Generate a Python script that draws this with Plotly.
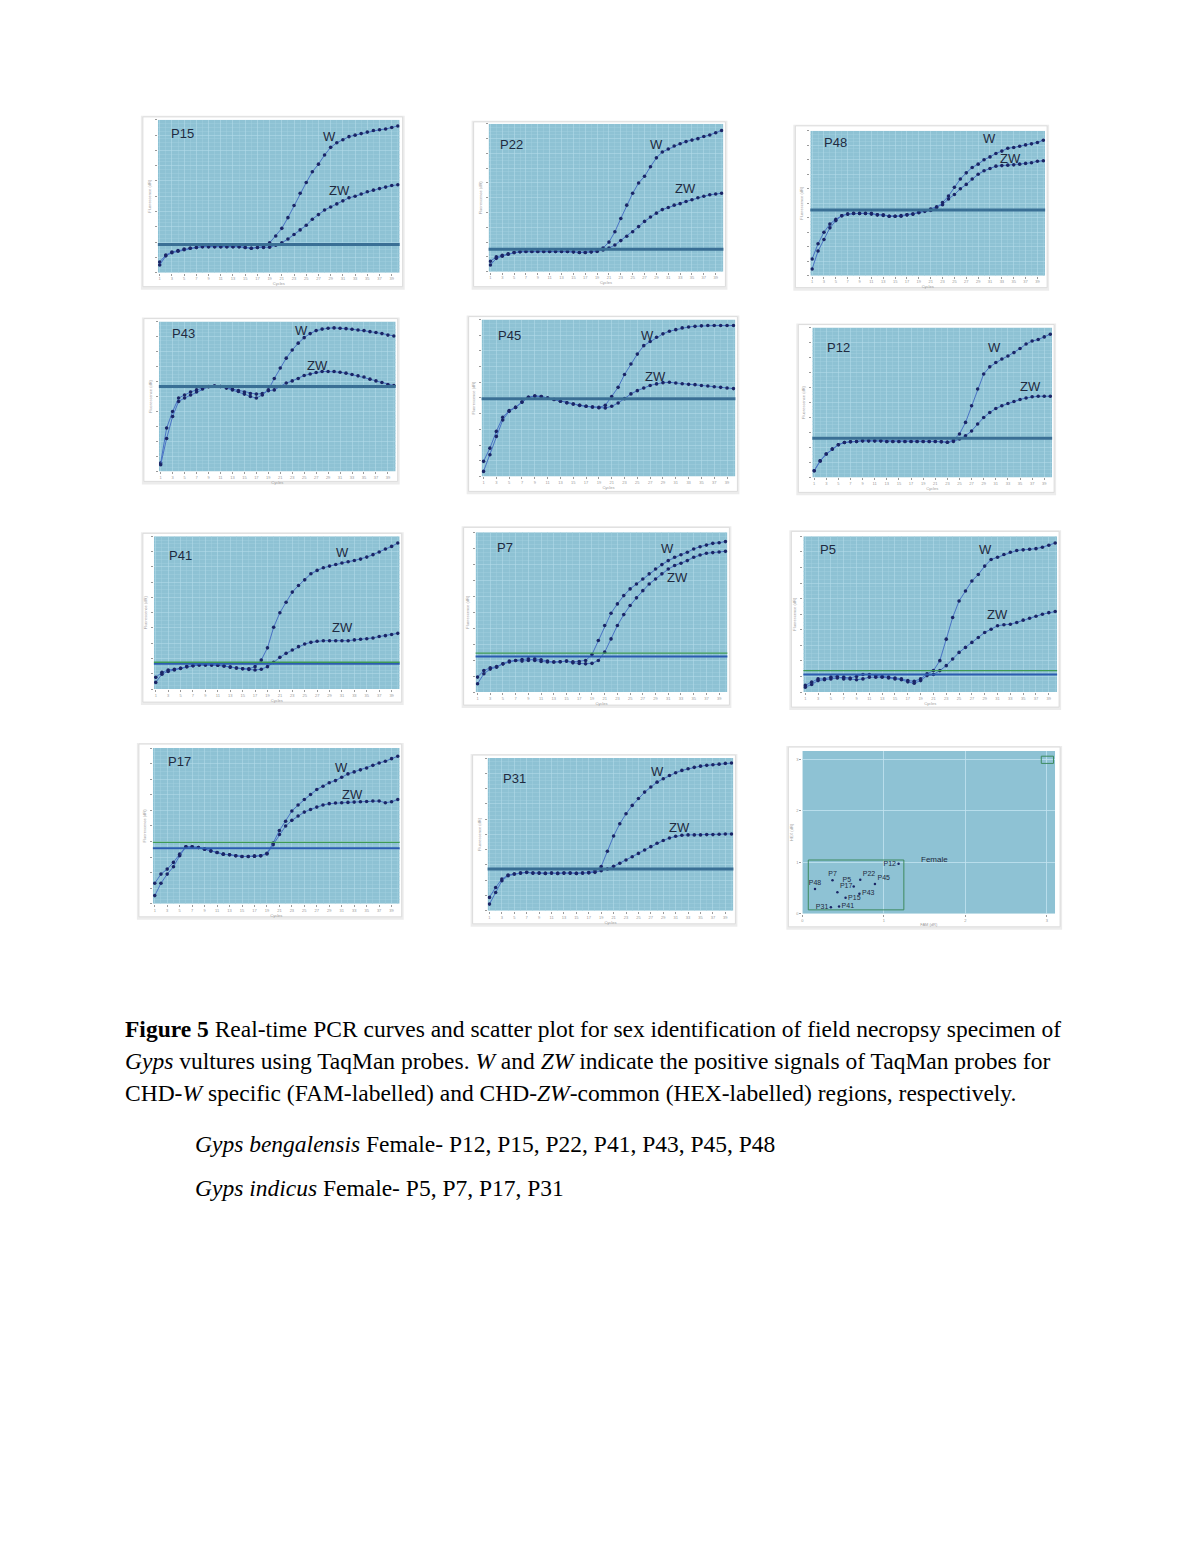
import plotly.graph_objects as go

# ---------------- data (% of plot height) ----------------
cycles = list(range(1, 41))

P15_W = [5, 11, 13, 14, 15, 16, 16.5, 17, 17, 17, 17, 17, 17, 17, 16.5, 16, 16.5, 17, 19.5, 24,
         29, 36, 44, 52, 59, 66, 71, 77, 82, 85, 87, 89, 90, 91, 92, 93, 93.5, 94, 95, 96]
P15_ZW = [7, 11.5, 13.5, 14.5, 15.5, 16, 16.5, 17, 17, 17, 17, 17, 17, 17, 16.5, 16, 16.5, 16.5, 16.7, 18,
          19.5, 22, 25, 28, 31, 35, 38, 41, 43, 45, 47, 49, 50, 51.5, 53, 54, 55, 56, 57, 57.5]

P22_W = [4.5, 9, 10.5, 11.8, 12.9, 13.5, 13.6, 13.6, 13.6, 13.6, 13.6, 13.6, 13.6, 13.6, 13.4, 13, 13, 13.4, 14, 16,
         20, 27, 36, 45, 53, 60, 64.5, 71, 77, 81, 83, 85, 86.5, 88, 89, 90, 91.4, 92.5, 94, 95.5]
P22_ZW = [7, 10, 11, 12, 13, 13.5, 13.6, 13.6, 13.6, 13.6, 13.6, 13.6, 13.6, 13.6, 13.4, 13, 13, 13.4, 13.6, 14.7,
          16, 18, 21, 24, 27, 30.5, 34, 37, 39.6, 42, 43.4, 45, 46, 47.5, 48.6, 50, 51, 52, 52.5, 53]

P48_W = [4.6, 17, 25, 33, 38, 41.4, 42.5, 43, 43, 43, 43, 42, 42, 41, 41, 41, 42, 42.5, 43.7, 44.4,
         45, 47, 50.5, 55, 61, 66.7, 71, 74.7, 77, 80, 82, 84.4, 86, 88, 88.5, 89.4, 90.3, 91, 92, 93.5]
P48_ZW = [11.5, 22, 30, 35.6, 39, 41.4, 42.5, 43, 43, 43, 42.5, 42, 41.5, 41, 41, 41.5, 42, 42.5, 43.5, 44.8,
          46, 47.6, 49, 53, 56, 60, 63, 66.7, 70, 72.4, 74, 75.6, 76, 76.3, 76.5, 77, 77.5, 78, 79, 79.3]

P43_W = [4.4, 22, 36.7, 46.7, 49, 51, 53, 55, 56.5, 57, 56.7, 55.6, 54.4, 53.3, 51.6, 50, 49, 51, 54.4, 62,
         69, 75.6, 81, 85.6, 89.3, 92, 94, 95, 95.6, 95.8, 95.6, 95.3, 94.9, 94.4, 94, 93.3, 92.7, 92, 91, 90.4]
P43_ZW = [5.6, 29, 40, 49, 51, 53, 54.4, 55.6, 56.7, 57, 56.7, 55.8, 54.9, 54, 53, 52, 51.6, 52, 53.8, 54.4,
          56.7, 59, 60.4, 62, 64, 65, 66, 66.7, 66.7, 66.7, 66.2, 65.6, 64.7, 63.8, 63, 61.6, 60.4, 59.3, 58, 57.3]

P45_W = [3.2, 13.8, 25.5, 36, 41.5, 44, 47.4, 50.4, 51.3, 50.9, 50, 49, 47.9, 47, 46.2, 45.3, 44.7, 44.3, 44, 45.3,
         51, 56.8, 65, 71.7, 78, 83.4, 86, 88.7, 90.9, 92.6, 93.6, 94.7, 95.3, 95.7, 96, 96.2, 96.2, 96.2, 96.2, 96.2]
P45_ZW = [9.6, 18, 28.7, 37.7, 42, 44, 47.4, 50.4, 51.3, 50.9, 50, 49, 47.9, 47, 46.2, 45.3, 44.7, 44.3, 43.8, 43.6,
          44.7, 46.8, 49.6, 52.6, 54.7, 56.4, 58, 59, 59.8, 60, 59.6, 59.1, 58.7, 58.5, 58, 57.7, 57.2, 56.8, 56.4, 56]

P12_W = [4.4, 11, 15.6, 18.9, 21.8, 23.3, 23.8, 24, 24.4, 24.4, 24.4, 24.4, 24, 24, 24, 24, 24, 24, 24, 24,
         24, 23.8, 23.5, 24.9, 29, 36.7, 47.8, 59, 69, 73.8, 76.7, 79, 81, 83.3, 86, 89, 91, 92, 93.8, 95.6]
P12_ZW = [4.4, 11, 15.6, 18.9, 21.8, 23.3, 23.8, 24, 24.4, 24.4, 24.4, 24.4, 24, 24, 24, 24, 24, 24, 24, 24,
          24, 23.8, 23.5, 24, 25.6, 27.8, 31, 35.6, 40, 43.3, 46, 47.8, 49.3, 50.7, 52, 53, 53.8, 54.2, 54.2, 54.2]

P41_W = [4.4, 9.8, 11.6, 12.5, 13.6, 14.7, 15.3, 15.8, 15.8, 15.8, 15.6, 15.1, 14.4, 13.8, 13.3, 13.3, 14.7, 19, 27, 40.5,
         50, 56.9, 63.5, 67.8, 71.5, 75.5, 77.7, 79.4, 80.5, 81.6, 82.5, 83.4, 84.2, 85.1, 86.4, 88, 89.7, 91.7, 93.4, 95.6]
P41_ZW = [7.7, 11, 12.5, 13, 13.6, 14.7, 15.3, 15.8, 15.8, 15.8, 15.6, 15.1, 14.4, 13.8, 13.3, 12.9, 12.5, 13, 14.7, 17.5,
          20.8, 23.4, 25.6, 27.8, 29.5, 30.6, 31.3, 31.7, 31.7, 31.7, 31.7, 31.7, 32.2, 32.6, 33, 33.5, 34.4, 35, 35.7, 36.5]

P7_W = [9.4, 13.5, 15.2, 16, 17.7, 19.4, 19.8, 19.4, 19.8, 20.8, 20.2, 19.4, 18.8, 19, 19.4, 19, 19.2, 19.8, 23.5, 32.3,
        41.7, 49.4, 55.2, 60.4, 64.6, 67.7, 70.8, 74, 77, 79.8, 82.3, 84.4, 86, 87.5, 89.6, 91, 92, 93.1, 93.5, 94.2]
P7_ZW = [5.2, 11.5, 14.4, 15.6, 17.7, 18.8, 19.8, 20.4, 20.8, 19.8, 19.2, 18.8, 18.8, 19, 19.4, 18.3, 17.9, 17.7, 18, 19.8,
         25, 33.3, 41.7, 48.5, 54.2, 59, 63.5, 67.7, 70.8, 74, 77, 79.2, 80.6, 82.3, 84.4, 85.8, 86.9, 87.3, 87.7, 88.1]

P5_W = [3.2, 4.9, 7.4, 7.9, 8.5, 9.1, 9.6, 9.1, 10, 11.3, 11.3, 10.6, 10, 9.6, 9.1, 8.5, 7.4, 7, 8.5, 11.7,
        13.8, 20.2, 34, 47.9, 58.5, 64.9, 71.3, 75.5, 80.9, 85.1, 86.6, 88.3, 89.8, 90.9, 91.3, 91.7, 92.1, 93, 94.3, 95.7]
P5_ZW = [4.3, 6.4, 8.5, 8.5, 9.6, 10, 8.5, 8.5, 7.9, 8.5, 9.6, 9.6, 9.6, 9.1, 8.5, 7.9, 6.6, 5.7, 7.4, 10.6,
         11.3, 13.8, 17, 21.3, 25.5, 28.7, 31.9, 35.1, 38.3, 40.4, 42.6, 43.2, 43.6, 44.7, 46.2, 47.4, 48.7, 50, 51, 51.7]

P17_W = [5.3, 13.2, 19.1, 23.8, 30.9, 36.6, 36.6, 36.2, 35.1, 34, 33, 31.9, 31.5, 30.9, 30.4, 30.4, 30.6, 30.9, 32.5, 39,
         47, 53, 59.6, 63.4, 67, 70.2, 73.4, 75.5, 77.7, 79.1, 81.3, 83.4, 84.7, 86, 87.2, 88.9, 90.4, 91.5, 93.2, 94.7]
P17_ZW = [13.2, 19.1, 22.3, 26.6, 31.9, 36.6, 36.6, 36.2, 35.1, 34, 33, 31.9, 31.5, 30.9, 30.4, 30.4, 30.6, 30.9, 32, 38,
          44.5, 50, 53.6, 56.4, 58.9, 60.6, 62.1, 63.4, 64.3, 64.7, 64.9, 65.1, 65.3, 65.5, 65.7, 66, 66, 64.9, 65.5, 67]

P31_W = [4.4, 12, 19.7, 23, 24.1, 24.7, 25.2, 24.7, 24.7, 24.5, 24.7, 24.5, 24.7, 24.7, 24.5, 24.7, 25, 26.3, 29, 39,
         49, 57, 63.5, 69, 73.5, 77.7, 81, 84.2, 86.4, 88.6, 90.4, 91.9, 93, 93.9, 94.7, 95.2, 95.6, 96, 96.5, 96.7]
P31_ZW = [8.8, 15.3, 20.8, 23.4, 24.1, 24.7, 25.2, 24.7, 24.7, 24.5, 24.7, 24.5, 24.7, 24.7, 24.5, 24.7, 25, 25.2, 26.3, 27.4,
          29.1, 31.1, 33.3, 35.4, 37.6, 39.8, 42, 44.2, 46, 47.7, 48.8, 49.5, 49.7, 49.7, 49.7, 49.9, 49.9, 50.1, 50.3, 50.3]

# thresholds (blue) and second (green) threshold lines, % of plot height
thr_blue = {"P15": 18.4, "P22": 15.2, "P48": 45.3, "P43": 56.7, "P45": 49.6, "P12": 26.2,
            "P41": 16.5, "P7": 22.3, "P5": 11.3, "P17": 35.7, "P31": 27.4}
thr_green = {"P41": 17.6, "P7": 24.4, "P5": 13.8, "P17": 39.4}

# scatter plot (allele discrimination) values
scatter_samples = ["P12", "P7", "P22", "P45", "P5", "P48", "P17", "P43", "P15", "P41", "P31"]
scatter_x = [1.18, 0.37, 0.71, 0.89, 0.63, 0.155, 0.43, 0.70, 0.53, 0.45, 0.35]
scatter_y = [0.97, 0.65, 0.66, 0.58, 0.53, 0.48, 0.42, 0.39, 0.31, 0.14, 0.13]

caption_lines = [
    "<b>Figure 5</b> Real-time PCR curves and scatter plot for sex identification of field necropsy specimen of",
    "<i>Gyps</i> vultures using TaqMan probes. <i>W</i> and <i>ZW</i> indicate the positive signals of TaqMan probes for",
    "CHD-<i>W</i> specific (FAM-labelled) and CHD-<i>ZW</i>-common (HEX-labelled) regions, respectively.",
]
species_lines = [
    "<i>Gyps bengalensis</i> Female- P12, P15, P22, P41, P43, P45, P48",
    "<i>Gyps indicus</i> Female- P5, P7, P17, P31",
]

# ---------------- layout (pixel boxes of the page) ----------------
W, H = 1200, 1553
OFF = 8  # page body margin


def fx(v):
    return (v - OFF) / W


def fy(v):
    return 1 - (v - OFF) / H


panels = [
    # name, W, ZW, plot box (x0,x1,y0,y1), frame box, P-label pos, W-label pos, ZW-label pos
    ("P15", P15_W, P15_ZW, (157, 399, 120, 273), (142, 402, 117, 287), (4.8, 91), (28.8, 89), (30.4, 54)),
    ("P22", P22_W, P22_ZW, (488, 723, 124, 272), (473, 725, 122, 287), (4.6, 86), (29.0, 86), (33.9, 56.5)),
    ("P48", P48_W, P48_ZW, (810, 1045, 131, 276), (795, 1047, 126, 288), (4.9, 92), (31.0, 95), (34.5, 81)),
    ("P43", P43_W, P43_ZW, (158, 395, 322, 472), (143, 397, 319, 482), (4.8, 92), (24.6, 94), (27.2, 70.5)),
    ("P45", P45_W, P45_ZW, (481, 735, 320, 477), (468, 737, 317, 492), (5.1, 90), (26.6, 90), (27.9, 64)),
    ("P12", P12_W, P12_ZW, (812, 1052, 328, 478), (798, 1054, 325, 493), (5, 87), (30.8, 86.7), (36.75, 60.4)),
    ("P41", P41_W, P41_ZW, (153, 399, 537, 690), (142, 401, 534, 703), (5, 87.5), (31.1, 89.7), (31.1, 40.5)),
    ("P7", P7_W, P7_ZW, (475, 727, 533, 693), (463, 729, 528, 706), (5.4, 90.6), (30.8, 90), (32.5, 72)),
    ("P5", P5_W, P5_ZW, (803, 1057, 537, 693), (791, 1059, 532, 708), (4.6, 91.5), (29.2, 91.5), (31, 49.6)),
    ("P17", P17_W, P17_ZW, (152, 399, 749, 905), (138, 401, 745, 918), (4.9, 91.5), (31.0, 87.5), (32.8, 70.5)),
    ("P31", P31_W, P31_ZW, (487, 733, 759, 912), (472, 735, 756, 925), (5, 86.9), (28.0, 91), (31.6, 54.7)),
]
scatter_box = (802, 1055, 752, 915)
scatter_frame = (788, 1060, 748, 928)

BG = "#8ec2d4"
GRID = "rgba(180,220,234,0.55)"
MINOR = "rgba(165,210,226,0.4)"
DOT = "#1b2566"
LINE = "#4a72c4"
TXT = "#1e2a40"
FONT = "Liberation Sans"
XR = [0.7, 40.3]
YR = [0, 100]

fig = go.Figure()
shapes = []
annotations = []
layout = {}


def frame(box):
    x0, x1, y0, y1 = box
    shapes.append(dict(type="rect", xref="paper", yref="paper", layer="below",
                       x0=fx(x0 - 2), x1=fx(x1 + 2), y0=fy(y1 + 3), y1=fy(y0 - 1),
                       fillcolor="#ececec", line=dict(width=0)))
    shapes.append(dict(type="rect", xref="paper", yref="paper", layer="below",
                       x0=fx(x0), x1=fx(x1), y0=fy(y1), y1=fy(y0),
                       fillcolor="white", line=dict(color="#dcdcdc", width=1)))


def blue_bg(xr, yr, xrange, yrange):
    shapes.append(dict(type="rect", xref=xr, yref=yr, layer="below",
                       x0=xrange[0], x1=xrange[1], y0=yrange[0], y1=yrange[1],
                       fillcolor=BG, line=dict(width=0)))


for i, (name, wv, zv, box, fbox, plab, wlab, zlab) in enumerate(panels, start=1):
    sfx = "" if i == 1 else str(i)
    xr, yr = "x" + sfx, "y" + sfx
    frame(fbox)
    blue_bg(xr, yr, XR, YR)
    x0, x1, y0, y1 = box
    layout["xaxis" + sfx] = dict(
        domain=[fx(x0), fx(x1)], anchor=yr, range=XR, showgrid=True, gridcolor=GRID,
        gridwidth=0.7, dtick=2, tick0=1, zeroline=False, showline=False, ticks="outside", ticklen=2,
        tickcolor="#9a9a9a", tickfont=dict(size=4, color="#9a9a9a", family=FONT),
        minor=dict(showgrid=True, gridcolor=MINOR, gridwidth=0.5, dtick=1),
        title=dict(text="Cycles", font=dict(size=4, color="#9a9a9a", family=FONT), standoff=1))
    layout["yaxis" + sfx] = dict(
        domain=[fy(y1), fy(y0)], anchor=xr, range=YR, showgrid=True, gridcolor=GRID,
        gridwidth=0.7, dtick=10, zeroline=False, showline=False, ticks="outside", ticklen=2,
        tickcolor="#9a9a9a", showticklabels=False,
        minor=dict(showgrid=True, gridcolor=MINOR, gridwidth=0.5, dtick=2.5),
        title=dict(text="Fluorescence (dR)", font=dict(size=4, color="#9a9a9a", family=FONT), standoff=3))
    for series in (zv, wv):
        fig.add_trace(go.Scatter(x=cycles, y=series, xaxis=xr, yaxis=yr, mode="lines+markers",
                                 line=dict(color=LINE, width=1),
                                 marker=dict(color=DOT, size=3.6), showlegend=False,
                                 hoverinfo="skip", cliponaxis=True))
    if name in thr_green:
        shapes.append(dict(type="line", xref=xr + " domain", yref=yr, x0=0, x1=1,
                           y0=thr_green[name], y1=thr_green[name],
                           line=dict(color="#3f9a55", width=1.3)))
        shapes.append(dict(type="line", xref=xr + " domain", yref=yr, x0=0, x1=1,
                           y0=thr_blue[name], y1=thr_blue[name],
                           line=dict(color="#2c5cb0", width=1.8)))
    else:
        shapes.append(dict(type="line", xref=xr + " domain", yref=yr, x0=0, x1=1,
                           y0=thr_blue[name], y1=thr_blue[name],
                           line=dict(color="#3a6f95", width=3)))
    annotations.append(dict(x=plab[0], y=plab[1], xref=xr, yref=yr, text=name, showarrow=False,
                            font=dict(size=13, color=TXT, family=FONT)))
    annotations.append(dict(x=wlab[0], y=wlab[1], xref=xr, yref=yr, text="W", showarrow=False,
                            font=dict(size=13, color=TXT, family=FONT)))
    annotations.append(dict(x=zlab[0], y=zlab[1], xref=xr, yref=yr, text="ZW", showarrow=False,
                            font=dict(size=13, color=TXT, family=FONT)))

# ---------------- scatter panel ----------------
k = len(panels) + 1
sfx = str(k)
xr, yr = "x" + sfx, "y" + sfx
SXR = [0, 3.1]
SYR = [0, 3.16]
frame(scatter_frame)
blue_bg(xr, yr, SXR, SYR)
x0, x1, y0, y1 = scatter_box
layout["xaxis" + sfx] = dict(
    domain=[fx(x0), fx(x1)], anchor=yr, range=SXR, dtick=1, showgrid=True,
    gridcolor="rgba(195,228,240,0.8)", gridwidth=0.8, zeroline=False, showline=False,
    ticks="outside", ticklen=2, tickcolor="#9a9a9a", tickfont=dict(size=4, color="#9a9a9a", family=FONT),
    title=dict(text="FAM (dR)", font=dict(size=4, color="#9a9a9a", family=FONT), standoff=1))
layout["yaxis" + sfx] = dict(
    domain=[fy(y1), fy(y0)], anchor=xr, range=SYR, dtick=1, showgrid=True,
    gridcolor="rgba(195,228,240,0.8)", gridwidth=0.8, zeroline=False, showline=False,
    ticks="outside", ticklen=2, tickcolor="#9a9a9a", tickfont=dict(size=4, color="#9a9a9a", family=FONT),
    title=dict(text="HEX (dR)", font=dict(size=4, color="#9a9a9a", family=FONT), standoff=2))
positions = ["middle left", "top center", "top right", "top right", "top left", "top center",
             "top right", "middle right", "middle right", "middle right", "middle left"]
fig.add_trace(go.Scatter(x=scatter_x, y=scatter_y, xaxis=xr, yaxis=yr, mode="markers+text",
                         text=scatter_samples, textposition=positions,
                         textfont=dict(size=7, color=TXT, family=FONT),
                         marker=dict(symbol="circle", size=2.5, color=DOT),
                         showlegend=False, hoverinfo="skip"))
shapes.append(dict(type="rect", xref=xr, yref=yr, x0=0.073, x1=1.245, y0=0.077, y1=1.045,
                   line=dict(color="#3d8a5e", width=1), fillcolor="rgba(0,0,0,0)"))
shapes.append(dict(type="rect", xref=xr, yref=yr, x0=2.93, x1=3.08, y0=2.92, y1=3.06,
                   line=dict(color="#3d8a5e", width=1), fillcolor="rgba(0,0,0,0)"))
annotations.append(dict(x=1.43, y=1.06, xref=xr, yref=yr, text="Female", showarrow=False,
                        xanchor="left", font=dict(size=8, color=TXT, family=FONT)))

# ---------------- caption ----------------
CAP = 23.5
cap_y = [1030, 1062, 1094]
for t, yy in zip(caption_lines, cap_y):
    annotations.append(dict(x=fx(122), y=fy(yy), xref="paper", yref="paper", text=t, showarrow=False,
                            xanchor="left", yanchor="middle",
                            font=dict(size=CAP, color="black", family="Liberation Serif")))
for t, yy in zip(species_lines, [1145, 1190]):
    annotations.append(dict(x=fx(192), y=fy(yy), xref="paper", yref="paper", text=t, showarrow=False,
                            xanchor="left", yanchor="middle",
                            font=dict(size=CAP, color="black", family="Liberation Serif")))

fig.update_layout(width=W, height=H, margin=dict(l=0, r=0, t=0, b=0, pad=0),
                  paper_bgcolor="white", plot_bgcolor=BG, showlegend=False,
                  shapes=shapes, annotations=annotations, **layout)
fig.write_html("out.html")
